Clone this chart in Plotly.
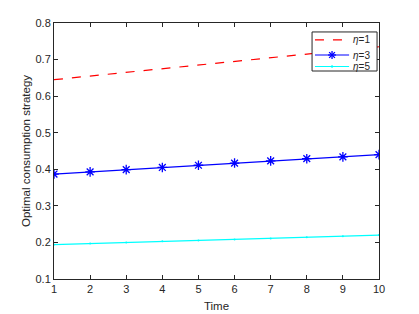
import plotly.graph_objects as go

time = [1, 2, 3, 4, 5, 6, 7, 8, 9, 10]
eta1 = [0.645, 0.655, 0.665, 0.675, 0.685, 0.695, 0.705, 0.715, 0.725, 0.735]
eta3 = [0.387, 0.393, 0.399, 0.405, 0.411, 0.417, 0.423, 0.429, 0.434, 0.440]
eta5 = [0.194, 0.197, 0.200, 0.203, 0.205, 0.208, 0.211, 0.214, 0.217, 0.220]
y_ticks = [0.1, 0.2, 0.3, 0.4, 0.5, 0.6, 0.7, 0.8]
series_names = ["<i>η</i>=1", "<i>η</i>=3", "<i>η</i>=5"]

RED, BLUE, CYAN, INK = "#ff0000", "#0000ff", "#00ffff", "#262626"

# plot-area size in pixels (for legend geometry)
W_PLOT, H_PLOT = 325, 256

fig = go.Figure()
fig.add_trace(go.Scatter(x=time, y=eta1, mode="lines", name=series_names[0],
                         line=dict(color=RED, width=1.2, dash="dash")))
fig.add_trace(go.Scatter(x=time, y=eta3, mode="lines+markers", name=series_names[1],
                         line=dict(color=BLUE, width=1.2),
                         marker=dict(symbol="asterisk-open", size=8,
                                     line=dict(color=BLUE, width=1.3))))
fig.add_trace(go.Scatter(x=time, y=eta5, mode="lines+markers", name=series_names[2],
                         line=dict(color=CYAN, width=1.2),
                         marker=dict(symbol="circle", size=2, color=CYAN)))

axis_common = dict(showgrid=False, zeroline=False, showline=True, linecolor=INK,
                   linewidth=1, mirror="ticks", ticks="inside", ticklen=4,
                   tickcolor=INK, tickfont=dict(size=11, color=INK), automargin=False)
fig.update_xaxes(range=[1, 10], tickvals=time,
                 title=dict(text="Time", font=dict(size=11.5, color=INK), standoff=7),
                 **axis_common)
fig.update_yaxes(range=[0.1, 0.8], tickvals=y_ticks, tickformat=".1f",
                 title=dict(text="Optimal consumption strategy", font=dict(size=11.5, color=INK), standoff=2),
                 **axis_common)

# ---- manual MATLAB-style legend (paper coordinates) ----
def px(dx):
    return dx / W_PLOT

def py(dy):
    return dy / H_PLOT

box_x0, box_x1 = 0.794, 0.994
box_y0, box_y1 = 0.8125, 0.965
row_y = [0.934, 0.875, 0.830]
ln_x0, ln_x1 = 0.803, 0.908
mid_x = (ln_x0 + ln_x1) / 2
txt_x = 0.914

shapes = [dict(type="rect", xref="paper", yref="paper", x0=box_x0, x1=box_x1,
               y0=box_y0, y1=box_y1, fillcolor="white", line=dict(color=INK, width=1),
               layer="above")]
styles = [dict(color=RED, width=1.2, dash="dash"), dict(color=BLUE, width=1.2),
          dict(color=CYAN, width=1.2)]
for yv, st in zip(row_y, styles):
    shapes.append(dict(type="line", xref="paper", yref="paper", x0=ln_x0, x1=ln_x1,
                       y0=yv, y1=yv, line=st, layer="above"))
# asterisk sample for eta=3
r = 4
for ddx, ddy in [(r, 0), (0, r), (r * 0.72, r * 0.72), (r * 0.72, -r * 0.72)]:
    shapes.append(dict(type="line", xref="paper", yref="paper",
                       x0=mid_x - px(ddx), x1=mid_x + px(ddx),
                       y0=row_y[1] - py(ddy), y1=row_y[1] + py(ddy),
                       line=dict(color=BLUE, width=1.3), layer="above"))
# dot sample for eta=5
shapes.append(dict(type="circle", xref="paper", yref="paper",
                   x0=mid_x - px(1), x1=mid_x + px(1), y0=row_y[2] - py(1), y1=row_y[2] + py(1),
                   fillcolor=CYAN, line=dict(color=CYAN, width=0.5), layer="above"))

annotations = [dict(xref="paper", yref="paper", x=txt_x, y=yv, text=name, showarrow=False,
                    xanchor="left", yanchor="middle", font=dict(size=10, color=INK))
               for yv, name in zip(row_y, series_names)]

fig.update_layout(
    width=419, height=314,
    margin=dict(l=46, r=48, t=15, b=43),
    paper_bgcolor="white", plot_bgcolor="white",
    font=dict(family="Liberation Sans, Arial, sans-serif", size=10, color=INK),
    showlegend=False,
    shapes=shapes, annotations=annotations,
)

fig.write_html("out.html")
